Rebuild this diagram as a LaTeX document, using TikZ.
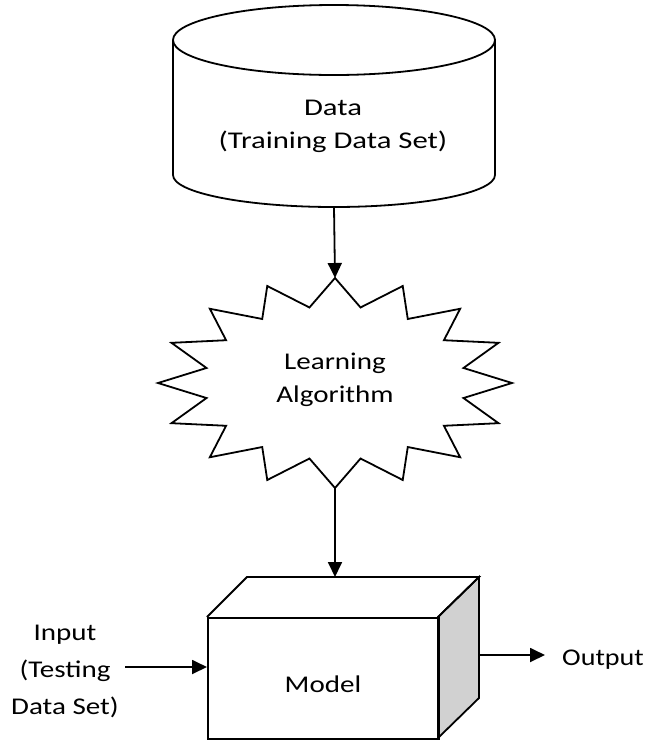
\documentclass[tikz,border=0pt]{standalone}
\usepackage{fontspec}
\setmainfont{Carlito}
\usetikzlibrary{arrows.meta}
\begin{document}
\begin{tikzpicture}[x=1pt,y=-1pt,
  shp/.style={line width=1.8pt, line join=miter},
  arr/.style={line width=1.8pt, -{Triangle[length=15pt,width=14pt]}},
  txt/.style={inner sep=0pt, align=center, font=\fontsize{24}{33}\selectfont, xscale=1.21, transform shape}
]
\useasboundingbox (0,0) rectangle (649,740);
% cylinder
\draw[shp, fill=white] (173,40) -- (173,175) arc[start angle=180, end angle=0, x radius=161, y radius=32] -- (495,40);
\draw[shp] (334,40) ellipse[x radius=161, y radius=35];
\coordinate (cylbot) at (334,207);
\node[txt, xscale=1.28/1.21] (data) at (333,126) {Data\\(Training Data Set)};
% star
\draw[shp] plot[samples at={0,...,31}] ({335+(154+23*cos(\x*180))*cos(90+\x*11.25)}, {383-(91+14*cos(\x*180))*sin(90+\x*11.25)}) -- cycle;
\coordinate (startop) at (335,278);
\coordinate (starbot) at (335,488);
\node[txt] (learn) at (335,380) {Learning\\Algorithm};
% box
\draw[shp, fill=black!18] (438,617) -- (479,577) -- (479,698) -- (438,738) -- cycle;
\draw[shp] (207,617) -- (247,577) -- (479,577) -- (438,617);
\node[shp, draw, minimum width=231pt, minimum height=121pt, inner sep=0pt, anchor=north west] (model) at (207,617) {};
\node[txt, anchor=base] (modeltxt) at (323,692) {Model};
\coordinate (boxtop) at (335,577);
% arrows
\draw[arr] (cylbot) -- (startop);
\draw[arr] (starbot) -- (boxtop);
\node[txt, font=\fontsize{24}{37}\selectfont] (input) at (65,671) {Input\\(Testing\\Data Set)};
\coordinate (inbeg) at (125,667);
\draw[arr] (inbeg) -- (model.west |- inbeg);
\coordinate (outbeg) at (479,655);
\coordinate (outtip) at (545,655);
\draw[arr] (outbeg) -- (outtip);
\node[txt, xscale=1.17/1.21, anchor=base west] (output) at (562,665) {Output};
\end{tikzpicture}
\end{document}
